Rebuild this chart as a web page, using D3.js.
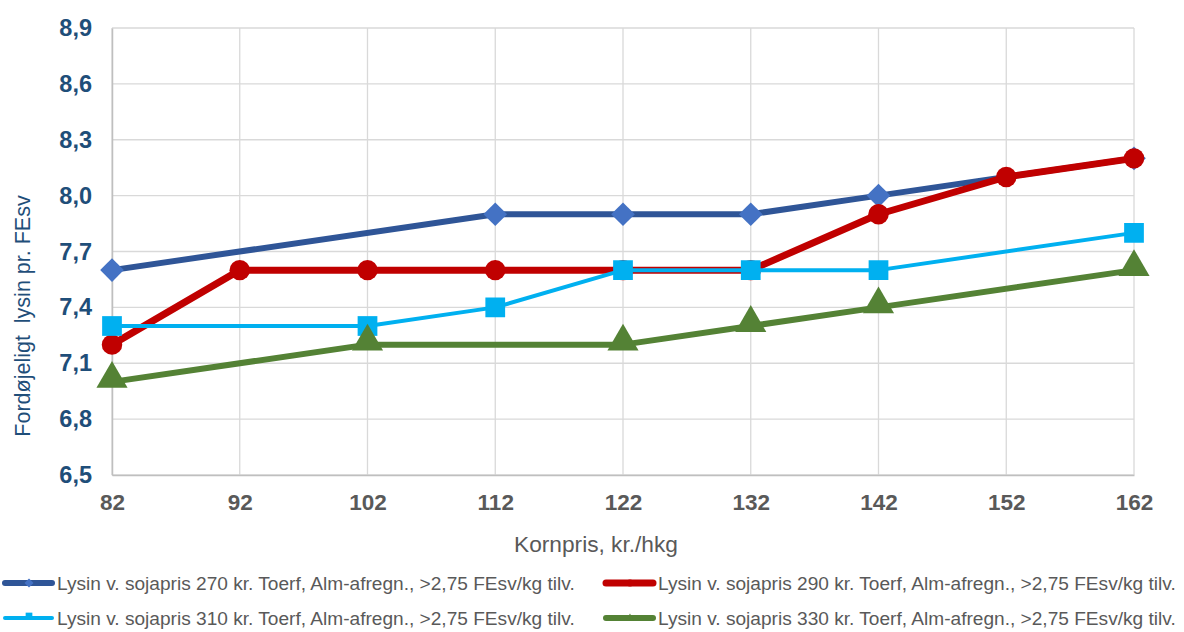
<!DOCTYPE html>
<html><head><meta charset="utf-8">
<script src="https://cdn.jsdelivr.net/npm/d3@7"></script>
<style>body{margin:0;background:#fff;}svg{display:block;font-family:"Liberation Sans",Arial,sans-serif;}</style>
</head><body><svg id="c" width="1184" height="632"></svg>
<script>
const categories = [82, 92, 102, 112, 122, 132, 142, 152, 162];
const yTicks = [6.5, 6.8, 7.1, 7.4, 7.7, 8.0, 8.3, 8.6, 8.9];
const s270 = [7.6, null, null, 7.9, 7.9, 7.9, 8.0, null, 8.2];
const s290 = [7.2, 7.6, 7.6, 7.6, 7.6, 7.6, 7.9, 8.1, 8.2];
const s310 = [7.3, null, 7.3, 7.4, 7.6, 7.6, 7.6, null, 7.8];
const s330 = [7.0, null, 7.2, null, 7.2, 7.3, 7.4, null, 7.6];
const seriesNames = [
  "Lysin v. sojapris 270 kr. Toerf, Alm-afregn., >2,75 FEsv/kg tilv.",
  "Lysin v. sojapris 290 kr. Toerf, Alm-afregn., >2,75 FEsv/kg tilv.",
  "Lysin v. sojapris 310 kr. Toerf, Alm-afregn., >2,75 FEsv/kg tilv.",
  "Lysin v. sojapris 330 kr. Toerf, Alm-afregn., >2,75 FEsv/kg tilv."
];
const xTitle = "Kornpris, kr./hkg";
const yTitle = "Fordøjeligt  lysin pr. FEsv";

const svg = d3.select("#c");
const x = d3.scaleLinear().domain([82, 162]).range([112, 1134]);
const y = d3.scaleLinear().domain([6.5, 8.9]).range([475, 28]);

const series = [
  {vals: s270, line: "#2F5597", fill: "#4472C4", w: 6, sym: d3.symbolSquare, rot: 45, size: 280, lsize: 40},
  {vals: s290, line: "#C00000", fill: "#C00000", w: 7, sym: d3.symbolCircle, rot: 0, size: 330, lsize: 40},
  {vals: s310, line: "#00B0F0", fill: "#00B0F0", w: 4, sym: d3.symbolSquare, rot: 0, size: 390, lsize: 45},
  {vals: s330, line: "#548235", fill: "#548235", w: 6, sym: d3.symbolTriangle, rot: 0, size: 420, lsize: 25}
];

// grid
const g = svg.append("g");
g.selectAll(".vg").data(categories).join("line")
  .attr("x1", d => x(d)).attr("x2", d => x(d)).attr("y1", y(8.9)).attr("y2", y(6.5))
  .attr("stroke", "#D9D9D9").attr("stroke-width", 1.3);
g.selectAll(".hg").data(yTicks).join("line")
  .attr("x1", x(82)).attr("x2", x(162)).attr("y1", d => y(d)).attr("y2", d => y(d))
  .attr("stroke", "#D9D9D9").attr("stroke-width", 1.3);

// axes
const yAxis = d3.axisLeft(y).tickValues(yTicks).tickSize(0).tickPadding(20)
  .tickFormat(d => d3.format(".1f")(d).replace(".", ","));
const ya = svg.append("g").attr("transform", `translate(${x(82)},0)`).call(yAxis);
ya.select(".domain").attr("stroke", "#BFBFBF").attr("stroke-width", 1.5);
ya.selectAll("text").attr("fill", "#1F4E79").attr("font-size", 23.5).attr("font-weight", "bold")
  .attr("font-family", "Liberation Sans, Arial, sans-serif");

const xAxis = d3.axisBottom(x).tickValues(categories).tickSize(0).tickPadding(19).tickFormat(d3.format("d"));
const xa = svg.append("g").attr("transform", `translate(0,${y(6.5)})`).call(xAxis);
xa.select(".domain").attr("stroke", "#BFBFBF").attr("stroke-width", 1.5);
xa.selectAll("text").attr("fill", "#595959").attr("font-size", 22.5).attr("font-weight", "bold")
  .attr("font-family", "Liberation Sans, Arial, sans-serif");

// titles
svg.append("text").attr("x", 596).attr("y", 552).attr("text-anchor", "middle")
  .attr("fill", "#595959").attr("font-size", 22.7).style("white-space", "pre").text(xTitle);
svg.append("text").attr("transform", "translate(30,316) rotate(-90)").attr("text-anchor", "middle")
  .attr("fill", "#1F4E79").attr("font-size", 21.5).style("white-space", "pre").text(yTitle);

// series
series.forEach(s => {
  const pts = categories.map((c, i) => ({c, v: s.vals[i]})).filter(p => p.v !== null);
  const line = d3.line().x(p => x(p.c)).y(p => y(p.v));
  svg.append("path").datum(pts).attr("d", line).attr("fill", "none")
    .attr("stroke", s.line).attr("stroke-width", s.w).attr("stroke-linejoin", "round");
  svg.append("g").selectAll("path").data(pts).join("path")
    .attr("transform", p => `translate(${x(p.c)},${y(p.v) + (s.sym === d3.symbolTriangle ? -3 : 0)}) rotate(${s.rot})`)
    .attr("d", d3.symbol().type(s.sym).size(s.size)).attr("fill", s.fill);
});

// legend
const legPos = [[0, 583], [601, 583], [0, 618], [601, 618]];
series.forEach((s, i) => {
  const [lx, ly] = legPos[i];
  const lg = svg.append("g").attr("transform", `translate(${lx},${ly})`);
  lg.append("line").attr("x1", 5).attr("x2", 52).attr("y1", 0).attr("y2", 0)
    .attr("stroke", s.line).attr("stroke-width", s.w).attr("stroke-linecap", "round");
  lg.append("path").attr("transform", `translate(29,${s.sym === d3.symbolSquare && s.rot === 0 ? -2 : 0}) rotate(${s.rot})`)
    .attr("d", d3.symbol().type(s.sym).size(s.lsize)).attr("fill", s.fill);
  lg.append("text").attr("x", 57).attr("y", 7).attr("fill", "#595959").attr("font-size", 19.1)
    .text(seriesNames[i]);
});
</script></body></html>
